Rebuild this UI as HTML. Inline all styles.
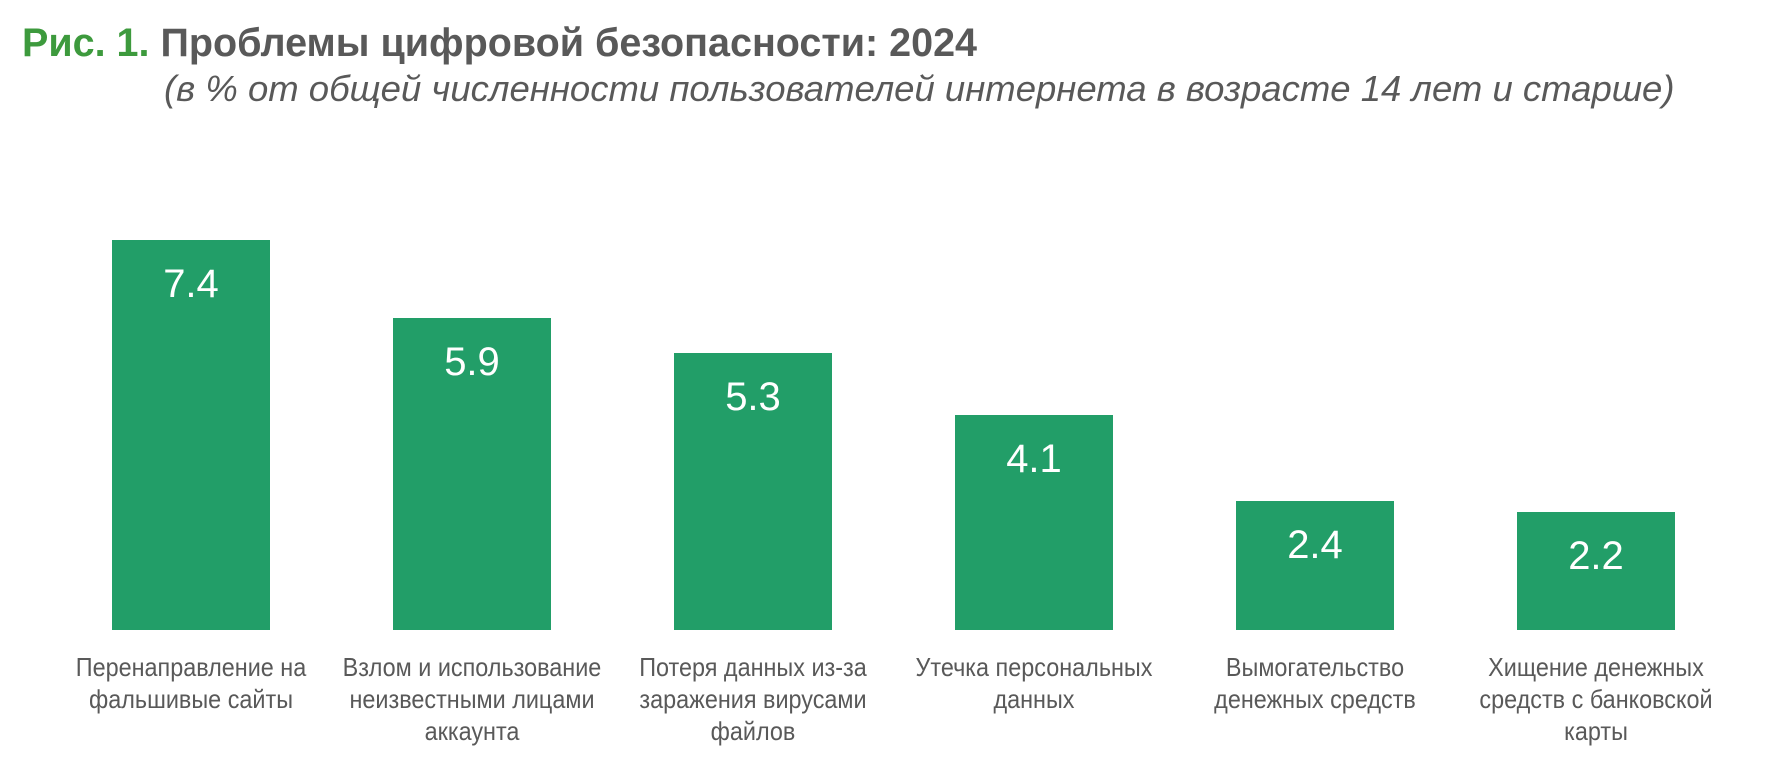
<!DOCTYPE html>
<html><head><meta charset="utf-8"><style>
body{margin:0;width:1770px;height:760px;background:#fff;overflow:hidden;position:relative;font-family:"Liberation Sans",Arial,sans-serif;}
.t{position:absolute;left:22px;top:21px;font-size:39.5px;font-weight:bold;color:#595959;white-space:nowrap}
.t span{color:#3d9a3d}
.s{position:absolute;left:164px;top:68px;font-size:36.5px;font-style:italic;color:#595959;white-space:nowrap}
.b{position:absolute;width:158px;background:#229e68;bottom:130px}
.v{position:absolute;width:158px;text-align:center;color:#fff;font-size:40px;line-height:40px}
.l{position:absolute;width:320px;text-align:center;color:#595959;font-size:26px;line-height:32px;top:651px;transform:scaleX(0.9);transform-origin:center top}
</style></head><body>
<div class="t"><span>Рис. 1.</span> Проблемы цифровой безопасности: 2024</div>
<div class="s">(в % от общей численности пользователей интернета в возрасте 14 лет и старше)</div>

<div class="b" style="left:112px;top:240px"></div><div class="v" style="left:112px;top:264px">7.4</div>
<div class="b" style="left:393px;top:318px"></div><div class="v" style="left:393px;top:342px">5.9</div>
<div class="b" style="left:674px;top:353px"></div><div class="v" style="left:674px;top:377px">5.3</div>
<div class="b" style="left:955px;top:415px"></div><div class="v" style="left:955px;top:439px">4.1</div>
<div class="b" style="left:1236px;top:501px"></div><div class="v" style="left:1236px;top:525px">2.4</div>
<div class="b" style="left:1517px;top:512px"></div><div class="v" style="left:1517px;top:536px">2.2</div>

<div class="l" style="left:31px">Перенаправление на<br>фальшивые сайты</div>
<div class="l" style="left:312px">Взлом и использование<br>неизвестными лицами<br>аккаунта</div>
<div class="l" style="left:593px">Потеря данных из-за<br>заражения вирусами<br>файлов</div>
<div class="l" style="left:874px">Утечка персональных<br>данных</div>
<div class="l" style="left:1155px">Вымогательство<br>денежных средств</div>
<div class="l" style="left:1436px">Хищение денежных<br>средств с банковской<br>карты</div>
</body></html>
